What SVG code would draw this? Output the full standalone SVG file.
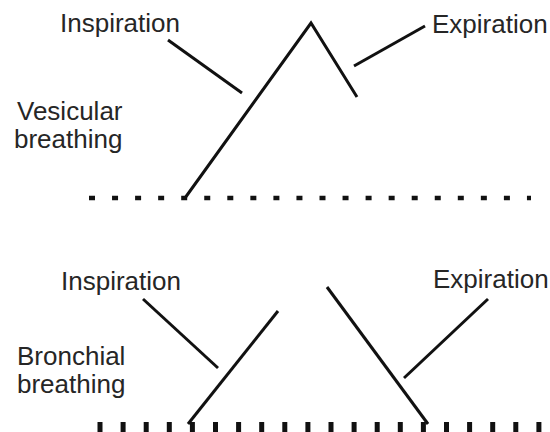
<svg xmlns="http://www.w3.org/2000/svg" width="550" height="432" viewBox="0 0 550 432">
<style>
.t{font-family:"Liberation Sans",Arial,sans-serif;font-size:26px;fill:#262626}
.l{stroke:#111;stroke-width:3;fill:none;stroke-linecap:butt}
.d1{stroke:#111;stroke-width:4.5;stroke-dasharray:6 17.05;fill:none}
.d2{stroke:#111;stroke-width:10;stroke-dasharray:5 18.1;fill:none}
</style>
<rect width="550" height="432" fill="#fff"/>
<g id="labels">
<text class="t" x="60" y="32">Inspiration</text>
<text class="t" x="432" y="33">Expiration</text>
<text class="t" x="17" y="120">Vesicular</text>
<text class="t" x="14" y="148">breathing</text>
<text class="t" x="61" y="290">Inspiration</text>
<text class="t" x="433" y="288">Expiration</text>
<text class="t" x="17" y="365">Bronchial</text>
<text class="t" x="17" y="393">breathing</text>
</g>
<g id="connectors">
<line class="d1" x1="89" y1="198" x2="531" y2="198"/>
<polyline class="l" points="185,198 311,23 357,97"/>
<line class="l" x1="168" y1="40" x2="242" y2="93"/>
<line class="l" x1="354" y1="66" x2="425" y2="26"/>
<line class="d2" x1="97.5" y1="427" x2="545" y2="427"/>
<line class="l" x1="188" y1="424" x2="278" y2="311"/>
<line class="l" x1="327" y1="287" x2="428" y2="424"/>
<line class="l" x1="143" y1="299" x2="218" y2="368"/>
<line class="l" x1="404" y1="378" x2="488" y2="299"/>
</g>
</svg>
